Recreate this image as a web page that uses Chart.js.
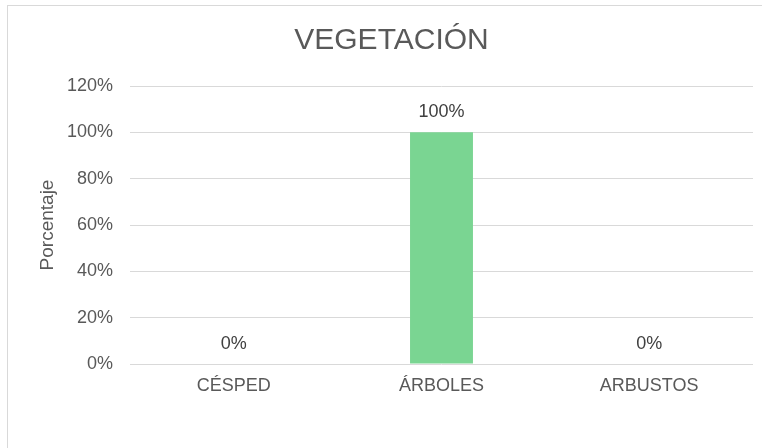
<!DOCTYPE html>
<html>
<head>
<meta charset="utf-8">
<script src="https://cdn.jsdelivr.net/npm/chart.js@4"></script>
<style>
  html, body { margin: 0; padding: 0; background: #fff; overflow: hidden; }
  #frame { position: absolute; left: 7px; top: 5px; width: 800px; height: 500px; border: 1px solid #d9d9d9; box-sizing: border-box; }
  #wrap { position: absolute; left: 0; top: 0; width: 762px; height: 448px; }
</style>
</head>
<body>
<div id="frame"></div>
<div id="wrap"><canvas id="mycanvas" width="762" height="448"></canvas></div>
<script>
// datos del grafico
var categorias = ['CÉSPED', 'ÁRBOLES', 'ARBUSTOS'];
var porcentajes = [0, 1, 0];
var ticksY = [0, 0.2, 0.4, 0.6, 0.8, 1.0, 1.2];

var fuente = '"Liberation Sans", Arial, sans-serif';
var pct = function (v) { return Math.round(v * 100) + '%'; };

// etiquetas encima de las barras
var etiquetas = {
  id: 'etiquetas',
  afterDatasetsDraw: function (chart) {
    var ctx = chart.ctx;
    var meta = chart.getDatasetMeta(0);
    ctx.save();
    ctx.font = '18px ' + fuente;
    ctx.fillStyle = '#404040';
    ctx.textAlign = 'center';
    ctx.textBaseline = 'middle';
    meta.data.forEach(function (bar, i) {
      ctx.fillText(pct(porcentajes[i]), bar.x, bar.y - 20);
    });
    ctx.restore();
  }
};

var ctx = document.getElementById('mycanvas');
new Chart(ctx, {
  type: 'bar',
  data: {
    labels: categorias,
    datasets: [{
      label: 'Porcentaje',
      data: porcentajes,
      backgroundColor: '#7ad592',
      borderWidth: 0,
      categoryPercentage: 1,
      barPercentage: 0.303
    }]
  },
  options: {
    responsive: false,
    animation: false,
    layout: { padding: { left: 30, right: 9, top: 0, bottom: 0 } },
    plugins: {
      legend: { display: false },
      tooltip: { enabled: false },
      title: {
        display: true,
        text: 'VEGETACIÓN',
        color: '#595959',
        font: { family: fuente, size: 30, weight: 'normal' },
        padding: { top: 23, bottom: 27 }
      }
    },
    scales: {
      x: {
        grid: { display: false, drawTicks: false },
        border: { display: false },
        ticks: {
          color: '#595959',
          padding: 11,
          font: { family: fuente, size: 18 }
        },
        afterFit: function (s) { s.height = 84; }
      },
      y: {
        min: 0,
        max: 1.2,
        afterBuildTicks: function (s) { s.ticks = ticksY.map(function (v) { return { value: v }; }); },
        grid: { color: '#d9d9d9', drawTicks: false },
        border: { display: false },
        ticks: {
          color: '#595959',
          padding: 17,
          font: { family: fuente, size: 18 },
          callback: function (v) { return pct(v); }
        },
        title: {
          display: true,
          text: 'Porcentaje',
          color: '#595959',
          padding: { top: 6, bottom: 0 },
          font: { family: fuente, size: 19 }
        },
        afterFit: function (s) { s.width = 100; }
      }
    }
  },
  plugins: [etiquetas]
});
</script>
</body>
</html>
